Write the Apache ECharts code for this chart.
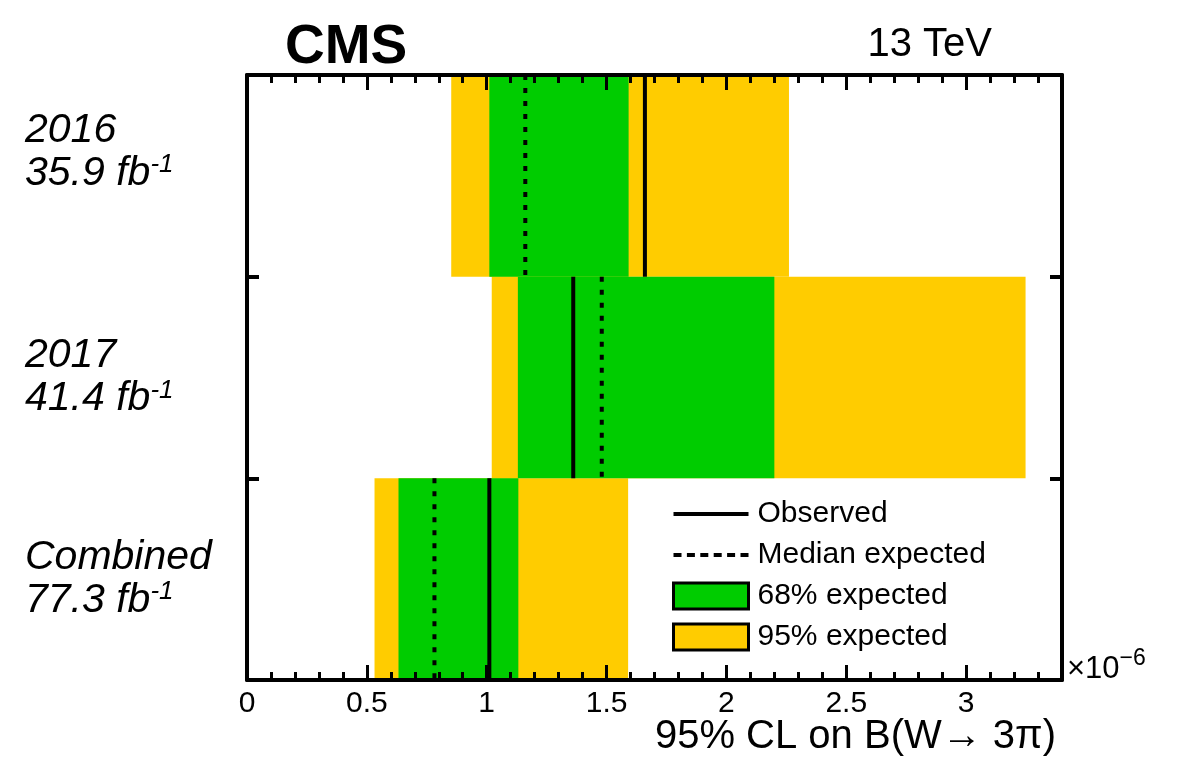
<!DOCTYPE html>
<html>
<head>
<meta charset="utf-8">
<script src="https://cdn.jsdelivr.net/npm/echarts@6/dist/echarts.min.js"></script>
<style>
  html, body { margin: 0; padding: 0; background: #fff; }
  #main { width: 1182px; height: 757px; }
</style>
</head>
<body>
<div id="main"></div>
<script>
// rows, top to bottom
var rows = ['2016', '2017', 'Combined'];
var lumi = ['35.9', '41.4', '77.3'];

// limits, in units of 1e-6
var exp95Lo = [0.852, 1.021, 0.532];
var exp68Lo = [1.011, 1.130, 0.632];
var expMedian = [1.161, 1.480, 0.782];
var observed = [1.660, 1.361, 1.011];
var exp68Hi = [1.592, 2.200, 1.132];
var exp95Hi = [2.261, 3.248, 1.590];

var xTicks = [0, 0.5, 1, 1.5, 2, 2.5, 3];

var FONT = 'Liberation Sans';
var GREEN = '#00cc00';
var YELLOW = '#ffcc00';

var chart = echarts.init(document.getElementById('main'), null, { renderer: 'canvas' });

function bandRect(color) {
  return function (params, api) {
    var row = api.value(0);
    var a = api.coord([api.value(1), row]);
    var b = api.coord([api.value(2), row]);
    var h = api.size([0, 1])[1];
    return {
      type: 'rect',
      shape: { x: a[0], y: a[1] - h / 2, width: b[0] - a[0], height: h },
      style: { fill: color }
    };
  };
}

function rowLine(dash) {
  return function (params, api) {
    var row = api.value(0);
    var p = api.coord([api.value(1), row]);
    var h = api.size([0, 1])[1];
    return {
      type: 'line',
      shape: { x1: p[0], y1: p[1] - h / 2, x2: p[0], y2: p[1] + h / 2 },
      style: { stroke: '#000', lineWidth: 4, lineDash: dash }
    };
  };
}

var bands95 = rows.map(function (r, i) { return [i, exp95Lo[i], exp95Hi[i]]; });
var bands68 = rows.map(function (r, i) { return [i, exp68Lo[i], exp68Hi[i]]; });
var medianPts = rows.map(function (r, i) { return [i, expMedian[i]]; });
var obsPts = rows.map(function (r, i) { return [i, observed[i]]; });

var dashIcon = 'path://M0,0h8v4h-8z M13.4,0h8v4h-8z M26.8,0h8v4h-8z M40.2,0h8v4h-8z M53.6,0h8v4h-8z M67,0h8v4h-8z';

var axisBlack = { show: true, onZero: false, lineStyle: { color: '#000', width: 4 } };
var majorTick = { show: true, inside: true, length: 15, lineStyle: { color: '#000', width: 3 } };
var minorTick = { show: true, splitNumber: 5, length: 8, lineStyle: { color: '#000', width: 3 } };
var rowTick = { show: true, inside: true, length: 12, lineStyle: { color: '#000', width: 4 } };

var option = {
  backgroundColor: '#fff',
  animation: false,
  textStyle: { fontFamily: FONT },
  grid: { left: 247, right: 120, top: 75, bottom: 77 },
  title: [
    { text: 'CMS', left: 280, top: 15, textStyle: { fontFamily: FONT, fontSize: 55, fontWeight: 'bold', color: '#000' } },
    { text: '13 TeV', right: 185, top: 20, textStyle: { fontFamily: FONT, fontSize: 40, fontWeight: 'normal', color: '#000' } },
    { text: '95% CL on B(W\u2192 3\u03c0)', right: 121, top: 712, textStyle: { fontFamily: FONT, fontSize: 40, fontWeight: 'normal', color: '#000' } },
    {
      text: '{m|\u00d710}{s|\u22126}', left: 1062, top: 642,
      textStyle: {
        rich: {
          m: { fontFamily: FONT, fontSize: 31, fontWeight: 'normal', lineHeight: 38, color: '#000', verticalAlign: 'bottom' },
          s: { fontFamily: FONT, fontSize: 23, fontWeight: 'normal', lineHeight: 23, color: '#000', verticalAlign: 'top' }
        }
      }
    }
  ],
  legend: {
    orient: 'vertical',
    left: 667,
    top: 494,
    itemWidth: 75,
    itemHeight: 26,
    itemGap: 11,
    selectedMode: false,
    textStyle: { fontFamily: FONT, fontSize: 30, color: '#000', padding: [0, 0, 0, 4] },
    data: [
      { name: 'Observed', icon: 'path://M0,0h75v4h-75z', itemStyle: { color: '#000', borderWidth: 0 } },
      { name: 'Median expected', icon: dashIcon, itemStyle: { color: '#000', borderWidth: 0 } },
      { name: '68% expected', icon: 'rect', itemStyle: { color: GREEN, borderColor: '#000', borderWidth: 3 } },
      { name: '95% expected', icon: 'rect', itemStyle: { color: YELLOW, borderColor: '#000', borderWidth: 3 } }
    ]
  },
  xAxis: [
    {
      type: 'value', position: 'bottom', min: 0, max: 3.4, interval: 0.5, z: 5,
      axisLine: axisBlack,
      axisTick: majorTick,
      minorTick: minorTick,
      splitLine: { show: false },
      minorSplitLine: { show: false },
      axisLabel: {
        showMaxLabel: false, margin: 9, color: '#000', fontFamily: FONT, fontSize: 30,
        formatter: function (v) { return xTicks.indexOf(v) >= 0 ? String(v) : ''; }
      }
    },
    {
      type: 'value', position: 'top', min: 0, max: 3.4, interval: 0.5, z: 5,
      axisLine: axisBlack,
      axisTick: majorTick,
      minorTick: minorTick,
      splitLine: { show: false },
      minorSplitLine: { show: false },
      axisLabel: { show: false }
    }
  ],
  yAxis: [
    {
      type: 'category', position: 'left', inverse: true, data: rows, z: 5,
      axisLine: axisBlack,
      axisTick: rowTick,
      splitLine: { show: false },
      axisLabel: {
        show: true, align: 'left', margin: 222, color: '#000',
        formatter: function (v, i) {
          var s = '{a|' + v + '}\n{a|' + lumi[i] + ' fb}{s|-1}';
          if (i === 0) s += '\n{pad| }';
          return s;
        },
        rich: {
          a: { fontFamily: FONT, fontStyle: 'italic', fontSize: 41, lineHeight: 43, color: '#000' },
          s: { fontFamily: FONT, fontStyle: 'italic', fontSize: 26, lineHeight: 26, color: '#000', verticalAlign: 'top' },
          pad: { fontSize: 10, lineHeight: 48 }
        }
      }
    },
    {
      type: 'category', position: 'right', inverse: true, data: rows, z: 5,
      axisLine: axisBlack,
      axisTick: rowTick,
      splitLine: { show: false },
      axisLabel: { show: false }
    }
  ],
  series: [
    {
      name: '95% expected', type: 'custom', z: 1,
      itemStyle: { color: YELLOW },
      encode: { x: [1, 2], y: 0 },
      renderItem: bandRect(YELLOW),
      data: bands95
    },
    {
      name: '68% expected', type: 'custom', z: 1,
      itemStyle: { color: GREEN },
      encode: { x: [1, 2], y: 0 },
      renderItem: bandRect(GREEN),
      data: bands68
    },
    {
      name: 'Median expected', type: 'custom', z: 2,
      itemStyle: { color: '#000' },
      encode: { x: 1, y: 0 },
      renderItem: rowLine([5, 8]),
      data: medianPts
    },
    {
      name: 'Observed', type: 'custom', z: 2,
      itemStyle: { color: '#000' },
      encode: { x: 1, y: 0 },
      renderItem: rowLine(null),
      data: obsPts
    }
  ]
};

chart.setOption(option);
</script>
</body>
</html>
